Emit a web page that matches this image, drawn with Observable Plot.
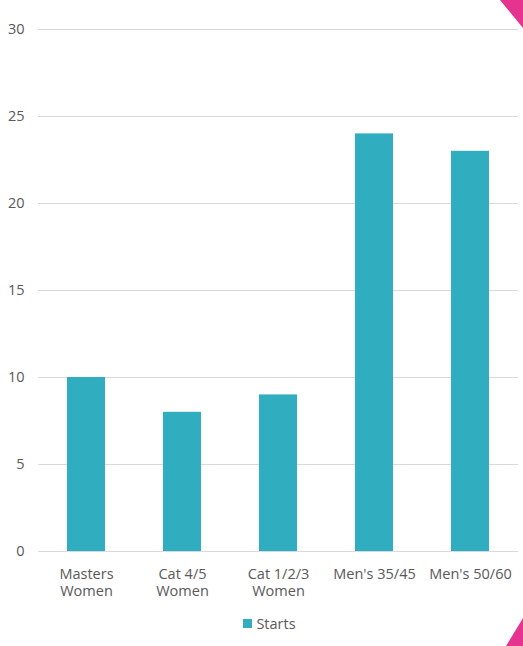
<!DOCTYPE html>
<html>
<head>
<meta charset="utf-8">
<script src="https://cdn.jsdelivr.net/npm/d3@7"></script>
<script src="https://cdn.jsdelivr.net/npm/@observablehq/plot@0.6"></script>
<style>
  html, body { margin: 0; padding: 0; background: #fff; }
  #wrap { position: relative; width: 523px; height: 646px; overflow: hidden; font-family: "Open Sans", sans-serif; }
  .corner { position: absolute; background: #e5348f; }
  .corner.top { right: 0; top: 0; width: 23px; height: 28px; clip-path: polygon(0 0, 100% 0, 100% 100%); }
  .corner.bottom { right: 0; bottom: 0; width: 17px; height: 28px; clip-path: polygon(100% 0, 100% 100%, 0 100%); }
  .legend { display: flex; justify-content: center; align-items: center; gap: 4px; padding-left: 16px; font-size: 14.5px; color: #595959; margin-top: 8px; }
  .legend .sw { width: 9px; height: 9px; background: #31adc0; display: inline-block; }
</style>
</head>
<body>
<div id="wrap"></div>
<script>
// Race categories and number of starters
const categories = ["Masters Women", "Cat 4/5 Women", "Cat 1/2/3 Women", "Men's 35/45", "Men's 50/60"];
const categoryLabels = ["Masters\nWomen", "Cat 4/5\nWomen", "Cat 1/2/3\nWomen", "Men's 35/45", "Men's 50/60"];
const starts = [10, 8, 9, 24, 23];
const yTicks = [0, 5, 10, 15, 20, 25, 30];
const seriesName = "Starts";

const rows = categories.map((c, i) => ({category: c, label: categoryLabels[i], starts: starts[i]}));

const teal = "#31adc0";
const grey = "#d9d9d9";
const textColor = "#595959";

const chart = Plot.plot({
  width: 523,
  height: 606,
  marginTop: 29,
  marginBottom: 55,
  marginLeft: 38,
  marginRight: 5,
  style: {fontFamily: "'Open Sans', sans-serif", fontSize: "14.5px", color: textColor, background: "transparent"},
  x: {domain: categories, paddingInner: 0.6, paddingOuter: 0.3, axis: null},
  y: {domain: [0, 30], ticks: yTicks, label: null},
  marks: [
    Plot.gridY(yTicks, {stroke: grey, strokeOpacity: 1}),
    Plot.axisY(yTicks, {tickSize: 0, tickPadding: 14, label: null, fill: textColor, fontSize: 14.5}),
    Plot.barY(rows, {x: "category", y: "starts", fill: teal}),
    Plot.text(rows, {x: "category", text: "label", frameAnchor: "bottom", lineAnchor: "top", dy: 15, lineHeight: 1.18, fill: textColor, fontSize: 14.5})
  ]
});

const wrap = document.getElementById("wrap");
wrap.appendChild(chart);

const legend = document.createElement("div");
legend.className = "legend";
legend.innerHTML = `<span class="sw"></span><span></span>`;
legend.lastChild.textContent = seriesName;
wrap.appendChild(legend);

for (const pos of ["top", "bottom"]) {
  const c = document.createElement("div");
  c.className = "corner " + pos;
  wrap.appendChild(c);
}
</script>
</body>
</html>
